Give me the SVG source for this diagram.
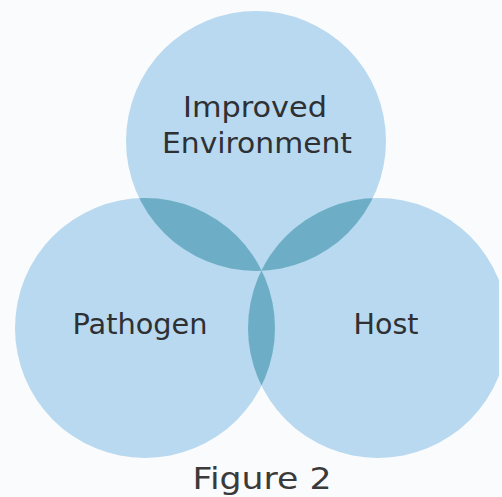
<svg xmlns="http://www.w3.org/2000/svg" width="502" height="497" viewBox="0 0 502 497">
  <style>
    .set { fill: #b8d9ef; }
    .lens { fill: #6daec6; }
    .lbl { font-family: "DejaVu Sans", Verdana, sans-serif; font-size: 29px; fill: #2e3033; text-anchor: middle; }
    .cap { font-family: "DejaVu Sans", Verdana, sans-serif; font-size: 31px; fill: #3a3a3a; text-anchor: middle; }
  </style>
  <defs>
    <clipPath id="clipTop"><circle cx="256" cy="141" r="130"/></clipPath>
    <clipPath id="clipLeft"><circle cx="145" cy="328" r="130"/></clipPath>
    <clipPath id="clipPage"><rect x="0" y="0" width="499" height="497"/></clipPath>
  </defs>
  <rect width="502" height="497" fill="#fafbfd"/>
  <g id="environment">
    <circle class="set" cx="256" cy="141" r="130"/>
  </g>
  <g id="pathogen">
    <circle class="set" cx="145" cy="328" r="130"/>
  </g>
  <g id="host" clip-path="url(#clipPage)">
    <circle class="set" cx="378" cy="328" r="130"/>
  </g>
  <g id="overlaps">
    <circle class="lens" cx="145" cy="328" r="130" clip-path="url(#clipTop)"/>
    <circle class="lens" cx="378" cy="328" r="130" clip-path="url(#clipTop)"/>
    <circle class="lens" cx="378" cy="328" r="130" clip-path="url(#clipLeft)"/>
  </g>
  <g id="labels">
    <text class="lbl" x="255" y="117" textLength="144" lengthAdjust="spacingAndGlyphs">Improved</text>
    <text class="lbl" x="257" y="153" textLength="190" lengthAdjust="spacingAndGlyphs">Environment</text>
    <text class="lbl" x="140" y="334" textLength="135" lengthAdjust="spacingAndGlyphs">Pathogen</text>
    <text class="lbl" x="386" y="334" textLength="65" lengthAdjust="spacingAndGlyphs">Host</text>
  </g>
  <text class="cap" x="262" y="489" textLength="139" lengthAdjust="spacingAndGlyphs">Figure 2</text>
</svg>
